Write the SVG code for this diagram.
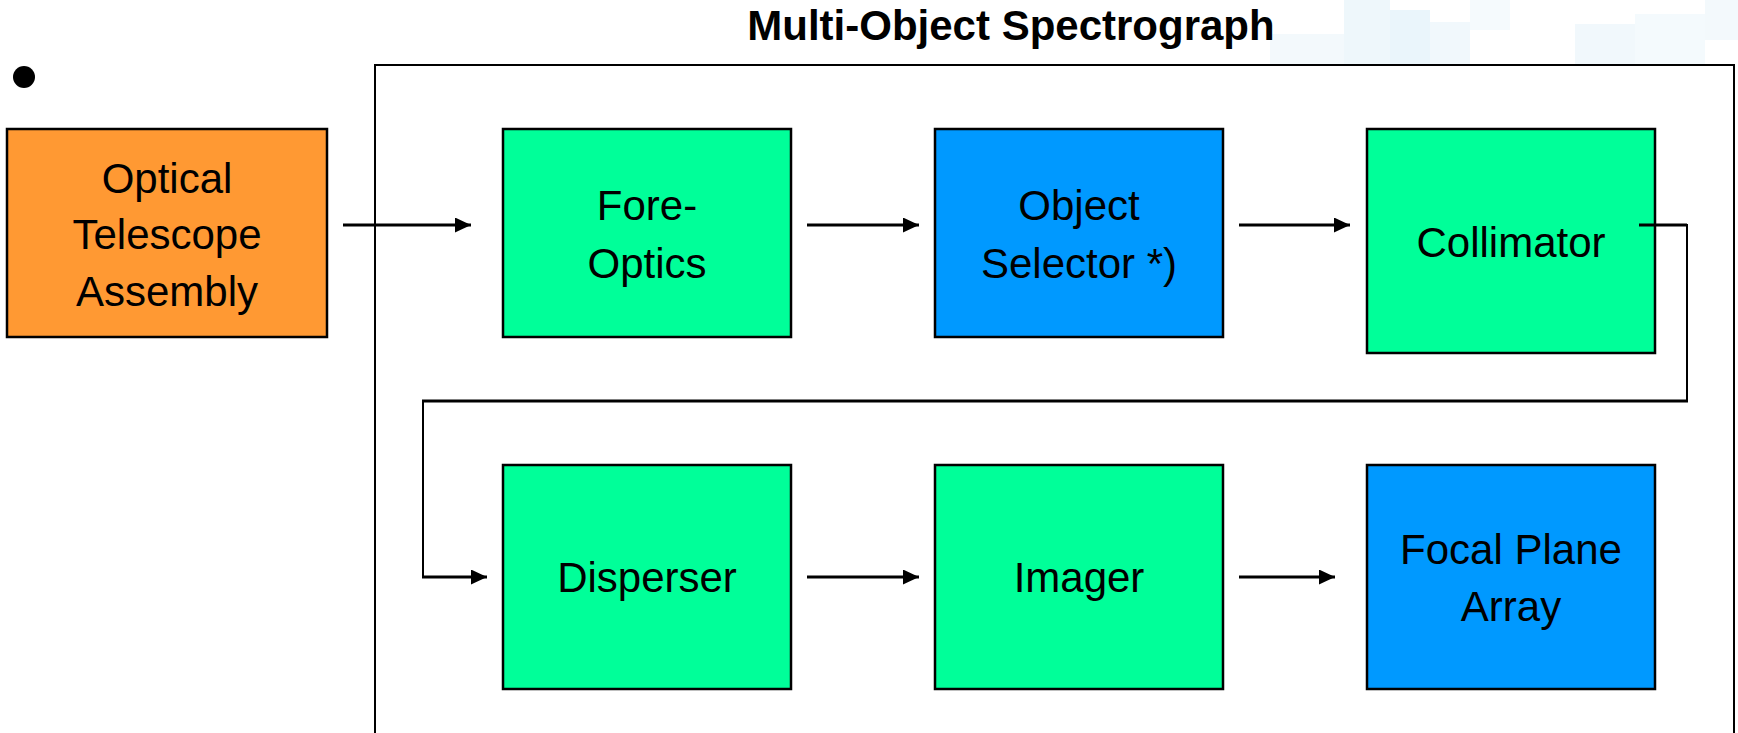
<svg xmlns="http://www.w3.org/2000/svg" width="1738" height="733" viewBox="0 0 1738 733">
  <style>
    .box { stroke: #000; stroke-width: 2.5; }
    .ota { fill: #FF9933; }
    .green { fill: #00FF99; }
    .blue { fill: #0099FF; }
    .lbl { font-family: "Liberation Sans", Arial, sans-serif; font-size: 42px; text-anchor: middle; fill: #000; }
    .title { font-family: "Liberation Sans", Arial, sans-serif; font-size: 42px; font-weight: bold; text-anchor: middle; fill: #000; }
    .conn { stroke: #000; stroke-width: 3; fill: none; }
    .conn-v { stroke: #000; stroke-width: 2; fill: none; }
    .haze { fill: #d9edf8; }
  </style>
  <defs>
    <marker id="arrow" markerUnits="userSpaceOnUse" viewBox="0 0 16 15" markerWidth="16" markerHeight="15" refX="16" refY="7.5" orient="auto">
      <path d="M0,0 L16,7.5 L0,15 Z" fill="#000"/>
    </marker>
  </defs>

  <rect x="0" y="0" width="1738" height="733" fill="#fff"/>

  <!-- faint background texture, top right -->
  <g id="background-texture" opacity="0.6">
    <rect class="haze" x="1270" y="34" width="74" height="30" opacity="0.5"/>
    <rect class="haze" x="1344" y="0" width="46" height="64" opacity="0.7"/>
    <rect class="haze" x="1390" y="10" width="40" height="54" opacity="0.9"/>
    <rect class="haze" x="1430" y="22" width="40" height="42" opacity="0.6"/>
    <rect class="haze" x="1470" y="0" width="40" height="30" opacity="0.4"/>
    <rect class="haze" x="1575" y="24" width="60" height="40" opacity="0.6"/>
    <rect class="haze" x="1635" y="14" width="70" height="50" opacity="0.45"/>
    <rect class="haze" x="1705" y="0" width="33" height="40" opacity="0.5"/>
  </g>

  <text id="title" class="title" x="1011" y="40">Multi-Object Spectrograph</text>

  <circle id="bullet" cx="24" cy="77" r="11" fill="#000"/>

  <!-- spectrograph enclosure -->
  <rect id="enclosure" x="375" y="65" width="1359" height="700" fill="none" stroke="#000" stroke-width="2"/>

  <g id="optical-telescope-assembly">
    <rect class="box ota" x="7" y="129" width="320" height="208"/>
    <text class="lbl" x="167" y="193">Optical</text>
    <text class="lbl" x="167" y="249">Telescope</text>
    <text class="lbl" x="167" y="306">Assembly</text>
  </g>

  <g id="fore-optics">
    <rect class="box green" x="503" y="129" width="288" height="208"/>
    <text class="lbl" x="647" y="220">Fore-</text>
    <text class="lbl" x="647" y="278">Optics</text>
  </g>

  <g id="object-selector">
    <rect class="box blue" x="935" y="129" width="288" height="208"/>
    <text class="lbl" x="1079" y="220">Object</text>
    <text class="lbl" x="1079" y="278">Selector *)</text>
  </g>

  <g id="collimator">
    <rect class="box green" x="1367" y="129" width="288" height="224"/>
    <text class="lbl" x="1511" y="257">Collimator</text>
  </g>

  <g id="disperser">
    <rect class="box green" x="503" y="465" width="288" height="224"/>
    <text class="lbl" x="647" y="592">Disperser</text>
  </g>

  <g id="imager">
    <rect class="box green" x="935" y="465" width="288" height="224"/>
    <text class="lbl" x="1079" y="592">Imager</text>
  </g>

  <g id="focal-plane-array">
    <rect class="box blue" x="1367" y="465" width="288" height="224"/>
    <text class="lbl" x="1511" y="564">Focal Plane</text>
    <text class="lbl" x="1511" y="621">Array</text>
  </g>

  <g id="connectors">
    <path class="conn" d="M343,225 H471" marker-end="url(#arrow)"/>
    <path class="conn" d="M807,225 H919" marker-end="url(#arrow)"/>
    <path class="conn" d="M1239,225 H1350" marker-end="url(#arrow)"/>
    <!-- collimator wraps round to the disperser -->
    <path class="conn" d="M1639,225 H1687"/>
    <path class="conn-v" d="M1687,224 V402"/>
    <path class="conn" d="M1688,401 H422"/>
    <path class="conn-v" d="M423,400 V578"/>
    <path class="conn" d="M422,577 H487" marker-end="url(#arrow)"/>
    <path class="conn" d="M807,577 H919" marker-end="url(#arrow)"/>
    <path class="conn" d="M1239,577 H1335" marker-end="url(#arrow)"/>
  </g>
</svg>
